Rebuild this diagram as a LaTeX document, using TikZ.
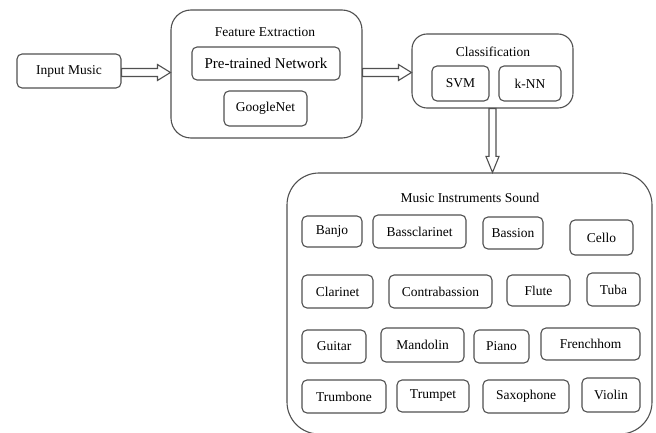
\documentclass[tikz,border=0pt]{standalone}
\usepackage{fontspec}
\setmainfont{Liberation Serif}
\newfontfamily\tms{Liberation Serif}
\usetikzlibrary{calc}
\definecolor{lc}{RGB}{80,80,80}
\tikzset{
 box/.style={draw=lc, line width=1.1pt, rounded corners=5pt, inner sep=0pt, font=\tms\fontsize{13.5}{16}\selectfont},
 group/.style={draw=lc, line width=1.1pt, inner sep=0pt},
 lbl/.style={font=\tms\fontsize{13.5}{16}\selectfont, inner sep=0pt},
 blockarrow/.style={draw=lc, line width=1.1pt, line join=miter},
}
\newcommand{\bx}[6]{\node[box, minimum width=#4pt, minimum height=#5pt] (#1) at (#2,#3) {#6};}
\begin{document}
\begin{tikzpicture}[x=1pt,y=-1pt]
\useasboundingbox (0,0) rectangle (656,433);
% groups
\node[group, rounded corners=20pt, minimum width=191pt, minimum height=128pt] (fe) at (266.5,74) {};
\node[group, rounded corners=15pt, minimum width=161pt, minimum height=74pt] (cls) at (492.5,71) {};
\node[group, rounded corners=32pt, minimum width=365pt, minimum height=261pt] (big) at (469.5,303.5) {};
% titles
\node[lbl] (fet) at (265,32) {Feature Extraction};
\node[lbl] (clst) at (493,52) {Classification};
\node[lbl] (bigt) at (470,198) {Music Instruments Sound};
% boxes
\bx{in}{69}{71}{104}{34}{Input Music}
\node[box, minimum width=148pt, minimum height=33pt, font=\tms\fontsize{15}{18}\selectfont] (ptn) at (266,63.5) {Pre-trained Network};
\bx{gn}{265.5}{108.5}{83}{35}{GoogleNet}
\bx{svm}{460.5}{83.5}{57}{35}{SVM}
\bx{knn}{530}{83.5}{62}{35}{k-NN}
% row 1
\bx{banjo}{332}{231.5}{60}{31}{Banjo}
\bx{bcl}{419.5}{231.5}{93}{33}{Bassclarinet}
\bx{bassion}{513}{233}{60}{32}{Bassion}
\bx{cello}{601.5}{237.5}{63}{35}{Cello}
% row 2
\bx{clar}{337.5}{291.5}{71}{33}{Clarinet}
\bx{cbas}{440.5}{291.5}{103}{33}{Contrabassion}
\bx{flute}{538.5}{290.5}{63}{31}{Flute}
\bx{tuba}{613.5}{289.5}{53}{33}{Tuba}
% row 3
\bx{guitar}{334}{346.5}{64}{33}{Guitar}
\bx{mand}{422.5}{345}{83}{34}{Mandolin}
\bx{piano}{501.5}{346.5}{55}{33}{Piano}
\bx{fh}{590.5}{344}{99}{32}{Frenchhom}
% row 4
\bx{trb}{344}{396.5}{84}{33}{Trumbone}
\bx{trp}{433}{396}{72}{32}{Trumpet}
\bx{sax}{526}{396.5}{86}{33}{Saxophone}
\bx{vio}{611}{395}{58}{34}{Violin}
% arrows
\draw[blockarrow] let \p1=(in.east), \p2=(fe.west), \p3=($(\p1)!0.5!(\p2)$) in
  (\x1,\y3+4pt) -- (\x2-13pt,\y3+4pt) -- (\x2-13pt,\y3+8pt) -- (\x2,\y3)
  -- (\x2-13pt,\y3-8pt) -- (\x2-13pt,\y3-4pt) -- (\x1,\y3-4pt) -- cycle;
\draw[blockarrow] let \p1=(fe.east), \p2=(cls.west), \p3=($(\p1)!0.5!(\p2)$) in
  (\x1,\y3+4pt) -- (\x2-13pt,\y3+4pt) -- (\x2-13pt,\y3+8pt) -- (\x2,\y3)
  -- (\x2-13pt,\y3-8pt) -- (\x2-13pt,\y3-4pt) -- (\x1,\y3-4pt) -- cycle;
\draw[blockarrow] let \p1=(cls.south), \p2=(big.north) in
  (\x1-3.5pt,\y1) -- (\x1-3.5pt,\y2+16pt) -- (\x1-6.5pt,\y2+16pt) -- (\x1,\y2)
  -- (\x1+6.5pt,\y2+16pt) -- (\x1+3.5pt,\y2+16pt) -- (\x1+3.5pt,\y1) -- cycle;
\end{tikzpicture}
\end{document}
